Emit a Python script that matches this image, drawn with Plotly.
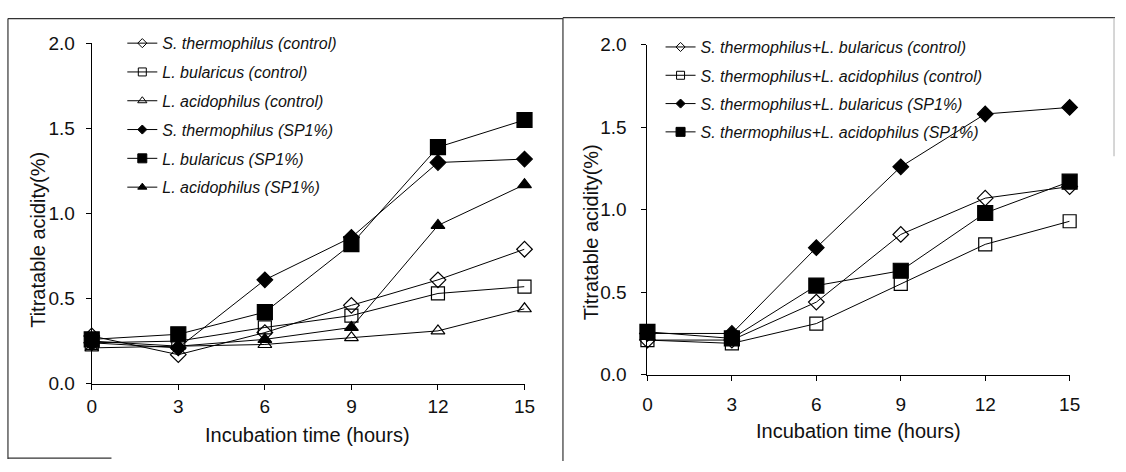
import plotly.graph_objects as go

W, H = 1126, 472

hours = [0, 3, 6, 9, 12, 15]
y_ticks = [0.0, 0.5, 1.0, 1.5, 2.0]

# Single cultures: titratable acidity (%)
st_control = [0.28, 0.17, 0.30, 0.46, 0.61, 0.79]
lb_control = [0.24, 0.25, 0.33, 0.40, 0.53, 0.57]
la_control = [0.21, 0.22, 0.23, 0.27, 0.31, 0.44]
st_sp1 = [0.24, 0.21, 0.61, 0.86, 1.30, 1.32]
lb_sp1 = [0.26, 0.29, 0.42, 0.82, 1.39, 1.55]
la_sp1 = [0.25, 0.22, 0.26, 0.33, 0.93, 1.17]

# Mixed cultures: titratable acidity (%)
stlb_control = [0.21, 0.21, 0.44, 0.85, 1.07, 1.14]
stla_control = [0.21, 0.19, 0.31, 0.55, 0.79, 0.93]
stlb_sp1 = [0.25, 0.25, 0.77, 1.26, 1.58, 1.62]
stla_sp1 = [0.26, 0.22, 0.54, 0.63, 0.98, 1.17]

left_series = [
    ("S. thermophilus (control)", st_control, "diamond-open", 12, 7),
    ("L. bularicus (control)", lb_control, "square-open", 13, 8),
    ("L. acidophilus (control)", la_control, "triangle-up-open", 12, 8),
    ("S. thermophilus (SP1%)", st_sp1, "diamond", 12, 7),
    ("L. bularicus (SP1%)", lb_sp1, "square", 15, 9),
    ("L. acidophilus (SP1%)", la_sp1, "triangle-up", 12, 8),
]
right_series = [
    ("S. thermophilus+L. bularicus (control)", stlb_control, "diamond-open", 12, 7),
    ("S. thermophilus+L. acidophilus (control)", stla_control, "square-open", 13, 8),
    ("S. thermophilus+L. bularicus (SP1%)", stlb_sp1, "diamond", 12, 7),
    ("S. thermophilus+L. acidophilus (SP1%)", stla_sp1, "square", 15, 9),
]

FONT = "Liberation Sans, Arial, sans-serif"
fig = go.Figure()


def add_series(series, xa, ya, legend):
    for name, vals, symbol, size, lsize in series:
        fig.add_trace(go.Scatter(
            x=hours, y=vals, mode="lines+markers", name=name,
            line=dict(color="black", width=1),
            marker=dict(symbol=symbol, size=size, color="black",
                        line=dict(color="black", width=1.2)),
            xaxis=xa, yaxis=ya, showlegend=False, cliponaxis=False,
        ))
        # legend entry with smaller key marker
        fig.add_trace(go.Scatter(
            x=[None], y=[None], mode="lines+markers", name=name,
            line=dict(color="black", width=1),
            marker=dict(symbol=symbol, size=lsize, color="black",
                        line=dict(color="black", width=1)),
            xaxis=xa, yaxis=ya, legend=legend, legendgroup=name,
        ))


add_series(left_series, "x", "y", "legend")
add_series(right_series, "x2", "y2", "legend2")


def px_x(p):
    return p / W


def px_y(p):
    return 1 - p / H


axis_common = dict(
    showline=True, linecolor="black", linewidth=1, mirror=False,
    ticks="outside", ticklen=5, tickcolor="black", tickwidth=1,
    showgrid=False, zeroline=False,
    tickfont=dict(family=FONT, size=19, color="#111"),
)

fig.update_layout(
    width=W, height=H,
    margin=dict(l=0, r=0, t=0, b=0),
    paper_bgcolor="white", plot_bgcolor="white",
    font=dict(family=FONT, color="#111"),
    xaxis=dict(domain=[px_x(88), px_x(527)], range=[0, 15], tickvals=hours,
               anchor="y", ticklabelstandoff=1, **axis_common),
    yaxis=dict(domain=[px_y(391), px_y(35)], range=[0, 2], tickvals=y_ticks,
               tickformat=".1f", anchor="x", ticklabelstandoff=7, **axis_common),
    xaxis2=dict(domain=[px_x(651.7), px_x(1080)], range=[0, 15], tickvals=hours,
                anchor="y2", ticklabelstandoff=7, **axis_common),
    yaxis2=dict(domain=[px_y(381.7), px_y(36.3)], range=[0, 2], tickvals=y_ticks,
                tickformat=".1f", anchor="x2", ticklabelstandoff=11, **axis_common),
    legend=dict(x=px_x(119), y=px_y(17), xanchor="left", yanchor="top",
                bgcolor="rgba(0,0,0,0)", borderwidth=0, tracegroupgap=5,
                font=dict(family=FONT, size=16, style="italic", color="#111")),
    legend2=dict(x=px_x(665), y=px_y(21), xanchor="left", yanchor="top",
                 bgcolor="rgba(0,0,0,0)", borderwidth=0, tracegroupgap=4.5,
                 font=dict(family=FONT, size=16, style="italic", color="#111")),
)

# axis titles
titles = [
    ("Incubation time (hours)", 307, 445, 0),
    ("Incubation time (hours)", 866, 441, 0),
    ("Titratable acidity(%)", 34, 241, -90),
    ("Titratable acidity(%)", 594, 233, -90),
]
for text, cx, cy, ang in titles:
    fig.add_annotation(text=text, x=px_x(cx), y=px_y(cy), xref="paper", yref="paper",
                       showarrow=False, textangle=ang, xanchor="center", yanchor="middle",
                       font=dict(family=FONT, size=20, color="#111"))

# panel frames
frame = [
    (3, 9, 566, 9, "#333"),
    (566, 8, 1126, 8, "#333"),
    (3, 9, 3, 470, "#333"),
    (566, 8, 566, 472, "#333"),
    (3, 469, 108, 469, "#333"),
    (1125, 8, 1125, 153, "#bbb"),
]
for x0, y0, x1, y1, col in frame:
    fig.add_shape(type="line", xref="paper", yref="paper",
                  x0=px_x(x0), y0=px_y(y0), x1=px_x(x1), y1=px_y(y1),
                  line=dict(color=col, width=1.2))

fig.write_html("out.html")
